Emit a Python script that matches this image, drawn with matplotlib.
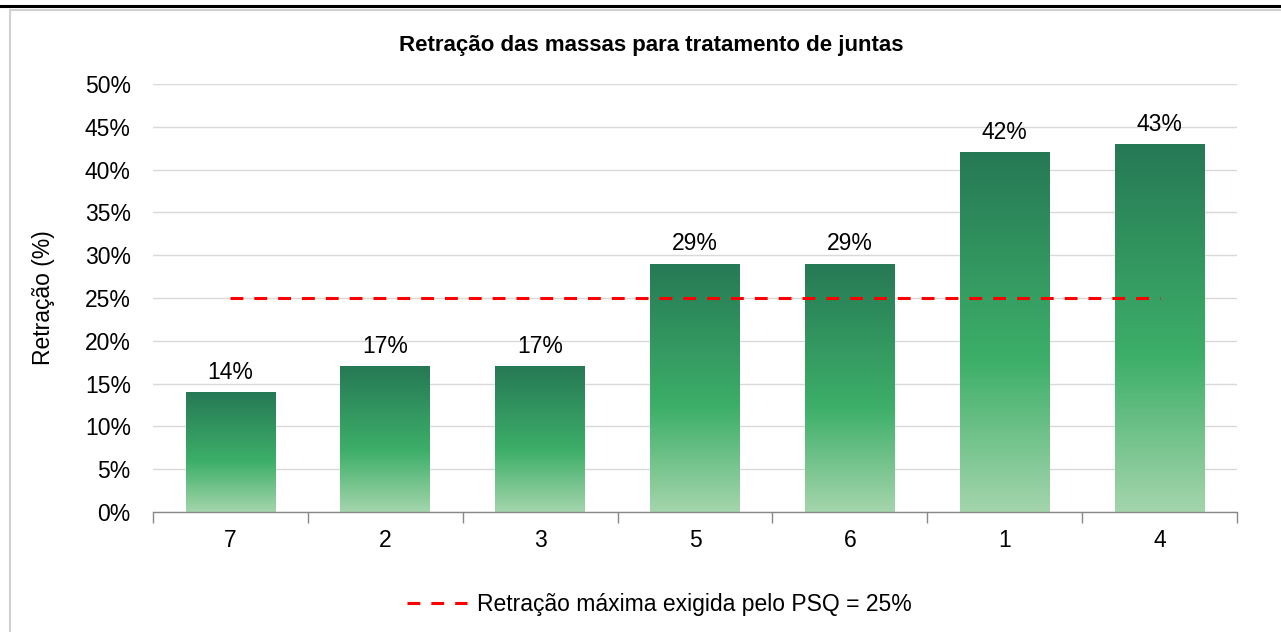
import matplotlib
matplotlib.use('Agg')
import matplotlib.pyplot as plt
import numpy as np
from matplotlib.colors import LinearSegmentedColormap
from matplotlib.lines import Line2D

plt.rcParams['font.family'] = ['Liberation Sans', 'DejaVu Sans']

categories = ['7', '2', '3', '5', '6', '1', '4']
retracao = [14, 17, 17, 29, 29, 42, 43]
limite_psq = 25
yticks = [0, 5, 10, 15, 20, 25, 30, 35, 40, 45, 50]

title = 'Retração das massas para tratamento de juntas'
ylabel = 'Retração (%)'
legend_label = 'Retração máxima exigida pelo PSQ = 25%'

# bottom -> top gradient like the Excel fill
grad = LinearSegmentedColormap.from_list(
    'excel_green', [(0.0, '#a4d5ac'), (0.42, '#3daf69'), (1.0, '#267955')])

fs = 16.5

fig = plt.figure(figsize=(12.81, 6.32), dpi=100, facecolor='white')

# page decoration: thick black rule and chart frame
fig.add_artist(Line2D([0, 1], [1 - 6/632, 1 - 6/632], color='black', lw=2.2,
                      transform=fig.transFigure))
fig.add_artist(Line2D([10/1281, 10/1281], [0, 1 - 10/632], color='#d0d0d0', lw=1.5,
                      transform=fig.transFigure))
fig.add_artist(Line2D([10/1281, 1], [1 - 10/632, 1 - 10/632], color='#d0d0d0', lw=1.5,
                      transform=fig.transFigure))

ax = fig.add_axes([153/1281, 120/632, 1084/1281, 428/632])
x = np.arange(len(categories))

bars = ax.bar(x, retracao, width=0.58, color='none', edgecolor='none', zorder=2)
g = np.linspace(0, 1, 256).reshape(-1, 1)
for b in bars:
    x0, y0 = b.get_x(), b.get_y()
    w, h = b.get_width(), b.get_height()
    im = ax.imshow(g, cmap=grad, origin='lower', aspect='auto',
                   extent=[x0, x0 + w, y0, y0 + h], zorder=2)
    im.set_clip_path(b)

for xi, v in zip(x, retracao):
    ax.annotate(f'{v}%', (xi, v), xytext=(0, 6), textcoords='offset points',
                ha='center', va='bottom', fontsize=fs)

ax.plot([x[0], x[-1]], [limite_psq, limite_psq], color='#ff0000', lw=2.2,
        dashes=(4.2, 3.6), zorder=3, label=legend_label)

ax.set_xlim(-0.5, len(categories) - 0.5)
ax.set_ylim(0, 50)
ax.set_yticks(yticks)
ax.set_yticklabels([f'{t}%' for t in yticks], fontsize=fs)
ax.set_xticks(x)
ax.set_xticklabels(categories, fontsize=fs)
ax.set_xticks(np.arange(len(categories) + 1) - 0.5, minor=True)
ax.tick_params(axis='x', which='major', length=0, pad=12)
ax.tick_params(axis='x', which='minor', length=8, color='#888888', width=1)
ax.tick_params(axis='y', length=0, pad=16)

ax.grid(axis='y', color='#d9d9d9', lw=1)
ax.set_axisbelow(True)
for s in ['top', 'right', 'left']:
    ax.spines[s].set_visible(False)
ax.spines['bottom'].set_color('#888888')
ax.spines['bottom'].set_linewidth(1)

ax.set_ylabel(ylabel, fontsize=fs)
ax.yaxis.set_label_coords(-(153 - 55) / 1084, 0.5)
fig.text(651/1281, 1 - 45/632, title, ha='center', va='center',
         fontsize=16, fontweight='bold')

fig.legend(loc='center', bbox_to_anchor=(659/1281, 1 - 605/632), frameon=False,
           fontsize=fs, handlelength=2.65, handletextpad=0.4)

fig.savefig('out.png', dpi=100, facecolor='white')
